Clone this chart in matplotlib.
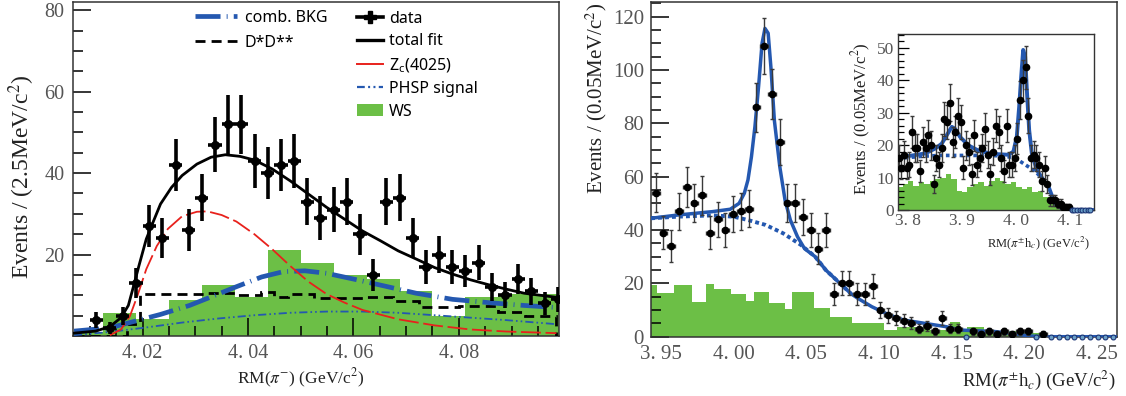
import numpy as np
import matplotlib
matplotlib.use("Agg")
import matplotlib.pyplot as plt
from matplotlib.lines import Line2D
from matplotlib.patches import Patch
from matplotlib.ticker import FuncFormatter, MultipleLocator

plt.rcParams['font.family'] = ['Liberation Serif', 'DejaVu Serif']
plt.rcParams['mathtext.fontset'] = 'stix'

BLUE = '#2458b0'
GREEN = '#6cbf46'
TICKGRAY = '#555555'

# ---------------- left: RM(pi-) ----------------
pim_bin = 0.0025
pim_first = 4.01125
pim_counts = [4, 2, 5, 13, 27, 24, 42, 26, 34, 47, 52, 52, 43, 40, 42, 43, 33, 29,
              31, 33, 25, 15, 33, 34, 24, 17, 20, 17, 16, 18, 12, 10, 14, 11, 8, 9]

fit_x = [4.0070, 4.0111, 4.0138, 4.0159, 4.0173, 4.0183, 4.0193, 4.0207, 4.0221, 4.0234,
         4.0255, 4.0275, 4.0303, 4.0330, 4.0357, 4.0385, 4.0412, 4.0446, 4.0480, 4.0514,
         4.0549, 4.0583, 4.0617, 4.0651, 4.0685, 4.0719, 4.0754, 4.0788, 4.0822, 4.0856,
         4.0890, 4.0924, 4.0985]
fit_y = [0.7, 1.2, 2.3, 4.5, 7.5, 12.3, 17.2, 23.8, 28.3, 32.4, 36.5, 39.4, 42.2, 43.9,
         44.5, 44.1, 43.2, 41.0, 38.1, 34.9, 31.6, 28.7, 25.8, 23.4, 20.9, 18.9, 16.8,
         15.2, 13.8, 12.6, 11.5, 10.5, 9.5]

zc_x = [4.0138, 4.0159, 4.0176, 4.0190, 4.0207, 4.0227, 4.0248, 4.0275, 4.0303, 4.0323,
        4.0350, 4.0378, 4.0412, 4.0446, 4.0480, 4.0514, 4.0549, 4.0583, 4.0617, 4.0685,
        4.0754, 4.0822, 4.0890, 4.0985]
zc_y = [0.2, 1.6, 4.9, 9.8, 16.4, 22.1, 26.3, 29.4, 30.5, 30.6, 29.7, 28.1, 25.0, 21.3,
        17.2, 13.4, 10.3, 8.2, 6.4, 4.1, 2.6, 1.6, 1.1, 0.7]

comb_x = [4.0070, 4.0138, 4.0193, 4.0234, 4.0289, 4.0330, 4.0378, 4.0426, 4.0467, 4.0508,
          4.0549, 4.0603, 4.0658, 4.0719, 4.0788, 4.0856, 4.0924, 4.0985]
comb_y = [1.2, 2.0, 3.9, 5.3, 7.5, 9.6, 12.1, 14.5, 15.8, 16.0, 15.4, 13.9, 12.3, 10.5,
          9.0, 8.2, 7.5, 7.0]

phsp_x = [4.0070, 4.0138, 4.0207, 4.0275, 4.0344, 4.0412, 4.0480, 4.0549, 4.0617, 4.0685,
          4.0754, 4.0822, 4.0890, 4.0985]
phsp_y = [0.2, 1.0, 2.1, 3.3, 4.3, 5.1, 5.7, 6.0, 6.0, 5.7, 5.1, 4.5, 3.9, 2.9]

dd_edges = [4.0070, 4.0170, 4.0195, 4.0325, 4.0375, 4.0425, 4.0450, 4.0475, 4.0525,
            4.0575, 4.0625, 4.0675, 4.0725, 4.0800, 4.0875, 4.0925, 4.0985]
dd_vals = [0, 3, 10.3, 10.6, 10.0, 10.8, 9.6, 10.3, 9.4, 9.4, 9.6, 8.6, 7.0, 7.4, 6.0, 5.0]

ws_edges = [4.00625, 4.0125, 4.01875, 4.025, 4.03125, 4.0375, 4.04375, 4.05, 4.05625,
            4.0625, 4.06875, 4.075, 4.08125, 4.0875, 4.09375, 4.1]
ws_vals = [1, 5.7, 4.1, 8.8, 12.6, 9.6, 21.1, 18, 15, 14, 11, 4.9, 9.6, 10.3, 10.3]

# ---------------- right: RM(pi hc) ----------------
hc_bin = 0.00534
hc_first = 3.9462
hc_counts = [54, 39, 34, 47, 56, 50, 53, 39, 44, 40, 46, 47, 48, 86, 109, 91, 73, 50,
             50, 45, 40, 33, 40, 16, 20, 20, 16, 16, 19, 10, 8, 7, 6, 5, 3, 4, 2, 7, 3,
             3, 0, 2, 1, 2, 1, 2, 1, 2, 2, 0, 1, 0, 0, 0, 0, 0, 0, 0, 0, 0]

hc_fit_x = [3.9430, 3.9610, 3.9854, 3.9976, 4.0037, 4.0073, 4.0098, 4.0122, 4.0146,
            4.0171, 4.0195, 4.0215, 4.0237, 4.0256, 4.0280, 4.0317, 4.0354, 4.0390,
            4.0439, 4.0488, 4.0561, 4.0634, 4.0732, 4.0805, 4.0854, 4.0951, 4.1073,
            4.1171, 4.1317, 4.1463, 4.1561, 4.1805, 4.1902, 4.2049, 4.2122, 4.2640]
hc_fit_y = [44.4, 45.6, 46.9, 47.8, 50.0, 53.8, 58.8, 67.5, 78.8, 93.8, 110.0, 115.6,
            113.8, 101.0, 81.0, 63.8, 51.0, 43.75, 37.5, 33.0, 30.0, 25.0, 20.0, 16.25,
            14.4, 11.25, 8.1, 6.25, 5.0, 3.75, 2.5, 1.9, 1.25, 0.25, 0.0, 0.0]

hc_bkg_x = [3.9430, 3.9610, 3.9854, 4.0000, 4.0098, 4.0220, 4.0341, 4.0463, 4.0561,
            4.0634, 4.0732, 4.0805]
hc_bkg_y = [44.4, 45.0, 45.5, 45.0, 43.75, 41.9, 38.75, 34.4, 30.0, 25.0, 20.0, 16.25]

hc_ws_edges = [3.9430, 3.9473, 3.9588, 3.9714, 3.9806, 3.9863, 3.9978, 4.0081, 4.0138,
               4.0242, 4.0356, 4.0402, 4.0551, 4.0666, 4.0815, 4.1033, 4.1125, 4.1354,
               4.1492, 4.1560, 4.1606, 4.1721, 4.2042, 4.2110]
hc_ws_vals = [19.4, 16.5, 19.4, 13.1, 19.6, 17.75, 15.9, 13.5, 16.9, 12.8, 10.3, 16.9,
              10.6, 7.5, 5.25, 2.5, 3.5, 2.5, 5.6, 2.0, 3.5, 2.25, 1.25]

# ---------------- inset: wide RM(pi hc) ----------------
wide_bin = 0.005
wide_first = 3.7825
wide_counts = [16, 13, 17, 13, 14, 24, 19, 19, 12, 21, 19, 23, 20, 8, 16, 14, 19, 28, 27,
               33, 21, 24, 29, 27, 13, 20, 18, 11, 23, 14, 16, 19, 25, 17, 11, 18, 26, 24,
               16, 12, 26, 14, 14, 16, 22, 34, 40, 44, 29, 16, 17, 16, 14, 9, 13, 8, 3, 3,
               3, 2, 2, 1, 1, 1, 0, 0, 0, 0, 0, 0, 0, 0]

wide_fit_x = [3.7815, 3.8006, 3.8315, 3.8500, 3.8623, 3.8716, 3.8809, 3.8870, 3.8963,
              3.9117, 3.9302, 3.9549, 3.9858, 3.9950, 4.0012, 4.0056, 4.0093, 4.0130,
              4.0167, 4.0198, 4.0241, 4.0290, 4.0383, 4.0506, 4.0599, 4.0691, 4.0753,
              4.0846, 4.0900, 4.1440]
wide_fit_y = [15.9, 16.6, 17.4, 18.9, 20.4, 23.0, 25.6, 25.0, 22.5, 19.9, 18.3, 17.3,
              17.0, 18.0, 22.6, 31.8, 41.0, 49.3, 47.2, 36.9, 24.6, 17.4, 12.3, 9.2, 7.2,
              3.1, 1.5, 0.5, 0.0, 0.0]

wide_bkg_x = [3.7815, 3.8315, 3.8600, 3.9000, 3.9500, 3.9800, 4.0000, 4.0200, 4.0350,
              4.0506]
wide_bkg_y = [15.9, 16.6, 16.8, 16.8, 16.8, 16.6, 15.8, 13.6, 12.0, 9.2]

wide_ws_edges = [3.7815, 3.79, 3.80, 3.81, 3.82, 3.83, 3.84, 3.85, 3.86, 3.87, 3.88,
                 3.89, 3.90, 3.91, 3.92, 3.93, 3.94, 3.95, 3.96, 3.97, 3.98, 3.99, 4.00,
                 4.01, 4.02, 4.03, 4.04, 4.05, 4.06, 4.07, 4.08, 4.09]
wide_ws_vals = [7, 8, 9, 7.5, 8.5, 8, 9, 9.5, 10, 11, 9.5, 6, 5.5, 7, 8, 8.5, 7.5, 9,
                10, 9, 8, 8.5, 7, 6.5, 7, 5.5, 6, 4, 2.5, 1.5, 0.5]


def spaced_label(fmt):
    return FuncFormatter(lambda v, p: (fmt % v).replace('.', '. '))


def draw_points(ax, first, width, counts, ms, style):
    x = first + width * np.arange(len(counts))
    y = np.array(counts, dtype=float)
    nz = y > 0
    if style == 'thick':
        ax.errorbar(x[nz], y[nz], yerr=np.sqrt(y[nz]), xerr=width / 2, fmt='o',
                    color='black', ms=ms, elinewidth=2.6, capsize=0, zorder=6)
    else:
        ax.errorbar(x[nz], y[nz], yerr=np.sqrt(y[nz]), xerr=width / 2, fmt='o',
                    color='black', ms=ms, ecolor='#3a3a3a', elinewidth=1.0,
                    capsize=1.6, capthick=1.0, zorder=6)
        ax.plot(x[~nz], y[~nz], 'o', ms=ms - 1, mfc='#6aa0c8', mec='#1b3475',
                mew=0.8, zorder=7, clip_on=False)


fig = plt.figure(figsize=(11.26, 3.96), dpi=100)

# ======== left panel ========
ax1 = fig.add_axes([73 / 1126, 1 - 336 / 396, (559 - 73) / 1126, (336 - 2) / 396])
ax1.stairs(ws_vals, ws_edges, fill=True, color=GREEN, zorder=1)
ax1.stairs(dd_vals, dd_edges, color='black', lw=2.0, linestyle=(0, (3.6, 2.2)), zorder=3)
ax1.plot(phsp_x, phsp_y, color=BLUE, lw=1.3,
         linestyle=(0, (4.5, 1.7, 0.9, 1.7, 0.9, 1.7)), zorder=3)
ax1.plot(comb_x, comb_y, color=BLUE, lw=3.4, linestyle=(0, (5.3, 1.3, 0.2, 1.3)), zorder=3)
ax1.plot(zc_x, zc_y, color='#e8211c', lw=1.3, linestyle=(0, (11, 2.6)), zorder=4)
ax1.plot(fit_x, fit_y, color='black', lw=2.0, zorder=5)
draw_points(ax1, pim_first, pim_bin, pim_counts, 5.5, 'thick')

ax1.set_xlim(4.0068, 4.0990)
ax1.set_ylim(0, 82)
ax1.xaxis.set_major_locator(MultipleLocator(0.02))
ax1.xaxis.set_minor_locator(MultipleLocator(0.005))
ax1.xaxis.set_major_formatter(spaced_label('%.2f'))
ax1.yaxis.set_major_locator(MultipleLocator(20))
ax1.yaxis.set_minor_locator(MultipleLocator(5))
ax1.yaxis.set_major_formatter(FuncFormatter(lambda v, p: '' if v == 0 else '%d' % v))
ax1.tick_params(which='both', direction='in', top=False, right=False,
                labelsize=14.5, labelcolor=TICKGRAY, width=1.1)
ax1.tick_params(which='major', length=13, pad=6)
ax1.tick_params(which='minor', length=7)
for s in ax1.spines.values():
    s.set_linewidth(1.1)
    s.set_color('#333333')

h_comb = Line2D([], [], color=BLUE, lw=3.4, linestyle=(0, (5.3, 1.3, 0.2, 1.3)))
h_dd = Line2D([], [], color='black', lw=2.0, linestyle=(0, (3.6, 2.2)))
leg1 = ax1.legend([h_comb, h_dd], ['comb. BKG', 'D*D**'], loc='upper left',
                  bbox_to_anchor=(0.235, 1.0), frameon=False,
                  prop={'family': 'Noto Sans', 'size': 11.5}, handlelength=2.6,
                  handletextpad=0.5, labelspacing=0.55, borderaxespad=0.1)
ax1.add_artist(leg1)
h_data = Line2D([], [], color='black', marker='P', ms=8, lw=2.6)
h_fit = Line2D([], [], color='black', lw=2.4)
h_zc = Line2D([], [], color='#e8211c', lw=1.4)
h_phsp = Line2D([], [], color=BLUE, lw=1.6, linestyle=(0, (3.5, 1.5, 0.9, 1.5, 0.9, 1.5)))
h_ws = Patch(facecolor=GREEN, edgecolor='none')
ax1.legend([h_data, h_fit, h_zc, h_phsp, h_ws],
           ['data', 'total fit', r'Z$_\mathregular{c}$(4025)', 'PHSP signal', 'WS'],
           loc='upper left', bbox_to_anchor=(0.567, 1.0), frameon=False,
           prop={'family': 'Noto Sans', 'size': 11.5}, handlelength=1.6,
           handletextpad=0.4, labelspacing=0.42, borderaxespad=0.15)

fig.text(22 / 1126, 1 - 177 / 396, 'Events / (2.5MeV/c$^2$)', rotation=90,
         ha='center', va='center', fontsize=17, color='#222222')
fig.text(301 / 1126, 1 - 378 / 396, r'RM($\pi^{-}$) (GeV/c$^2$)',
         ha='center', va='center', fontsize=12.5, color='#222222')

# ======== right panel ========
ax2 = fig.add_axes([651 / 1126, 1 - 336.7 / 396, (1117 - 651) / 1126, (336.7 - 2) / 396])
ax2.stairs(hc_ws_vals, hc_ws_edges, fill=True, color=GREEN, zorder=1)
ax2.plot(hc_bkg_x, hc_bkg_y, color=BLUE, lw=2.8, linestyle=(0, (1.0, 0.8)), zorder=3)
ax2.plot(hc_fit_x, hc_fit_y, color=BLUE, lw=2.5, zorder=4)
draw_points(ax2, hc_first, hc_bin, hc_counts, 4.5, 'thin')
ax2.set_xlim(3.943, 4.264)
ax2.set_ylim(0, 125.5)
ax2.xaxis.set_major_locator(MultipleLocator(0.05))
ax2.xaxis.set_major_formatter(spaced_label('%.2f'))
ax2.yaxis.set_major_locator(MultipleLocator(20))
ax2.yaxis.set_minor_locator(MultipleLocator(5))
ax2.tick_params(axis='x', which='both', length=0, pad=6)
ax2.tick_params(axis='y', which='both', direction='in', width=1.1)
ax2.tick_params(axis='y', which='major', length=13, pad=5)
ax2.tick_params(axis='y', which='minor', length=7)
ax2.tick_params(labelsize=15, labelcolor=TICKGRAY)
for s in ax2.spines.values():
    s.set_linewidth(1.1)
    s.set_color('#333333')

fig.text(596 / 1126, 1 - 98 / 396, 'Events / (0.05MeV/c$^2$)', rotation=90,
         ha='center', va='center', fontsize=15, color='#222222')
fig.text(1116 / 1126, 1 - 380 / 396, r'RM($\pi^{\pm}$h$_{c}$) (GeV/c$^2$)',
         ha='right', va='center', fontsize=13.5, color='#222222')

# ======== inset ========
ax3 = fig.add_axes([898 / 1126, 1 - 210 / 396, (1094 - 898) / 1126, (210 - 34.3) / 396])
ax3.stairs(wide_ws_vals, wide_ws_edges, fill=True, color=GREEN, zorder=1)
ax3.plot(wide_bkg_x, wide_bkg_y, color=BLUE, lw=2.6, linestyle=(0, (1.0, 0.9)), zorder=3)
ax3.plot(wide_fit_x, wide_fit_y, color=BLUE, lw=2.8, zorder=4)
draw_points(ax3, wide_first, wide_bin, wide_counts, 4.5, 'thin')
ax3.set_xlim(3.7815, 4.144)
ax3.set_ylim(0, 54.1)
ax3.xaxis.set_major_locator(MultipleLocator(0.1))
ax3.xaxis.set_major_formatter(spaced_label('%.1f'))
ax3.yaxis.set_major_locator(MultipleLocator(10))
ax3.yaxis.set_minor_locator(MultipleLocator(2))
ax3.tick_params(axis='x', which='both', length=0, pad=2)
ax3.tick_params(axis='y', which='both', direction='in', width=0.9)
ax3.tick_params(axis='y', which='major', length=8, pad=3)
ax3.tick_params(axis='y', which='minor', length=4)
ax3.tick_params(labelsize=12.5, labelcolor=TICKGRAY)
for s in ax3.spines.values():
    s.set_linewidth(1.0)
    s.set_color('#333333')

fig.text(861 / 1126, 1 - 119 / 396, 'Events / (0.05MeV/c$^2$)', rotation=90,
         ha='center', va='center', fontsize=12, color='#222222')
fig.text(1090 / 1126, 1 - 243 / 396, r'RM($\pi^{\pm}$h$_{c}$) (GeV/c$^2$)',
         ha='right', va='center', fontsize=9, color='#222222')

fig.savefig('out.png', dpi=100)
